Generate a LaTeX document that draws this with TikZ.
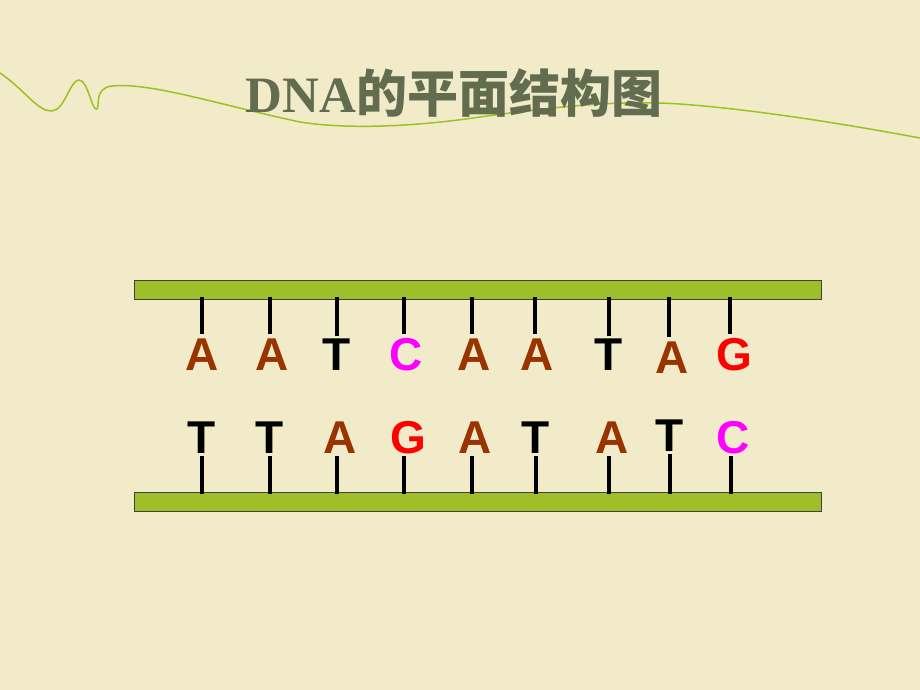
\documentclass[tikz,border=0pt]{standalone}
\usepackage{fontspec}
\setmainfont{Liberation Sans}
\newfontfamily\titlefont{Liberation Serif}
\newfontfamily\cjk{Noto Sans CJK SC}
\usepackage{tikz}

\definecolor{paper}{HTML}{F1EBCA}
\definecolor{titlegray}{HTML}{626D50}
\definecolor{vine}{HTML}{9CC21F}
\definecolor{barfill}{HTML}{9EBE2A}
\definecolor{baseA}{HTML}{993300}
\definecolor{baseC}{HTML}{FF00FF}
\definecolor{baseG}{HTML}{FF0000}
\definecolor{baseT}{HTML}{000000}

\tikzset{
  backbone/.style={draw=black!75, line width=1pt, fill=barfill,
    minimum width=687pt, minimum height=19pt, inner sep=0pt},
  letter/.style={inner sep=0pt, text height=33pt, text depth=0pt,
    font=\fontsize{46}{46}\selectfont\bfseries},
  stick/.style={line width=4.2pt, black}
}

\begin{document}
\begin{tikzpicture}[x=1pt, y=-1pt]
  \useasboundingbox[fill=paper] (0,0) rectangle (920,690);
  % decorative line
  \draw[vine, line width=1.5pt]
    (0,73) .. controls (25,90) and (38,112) .. (52,111)
    .. controls (65,110) and (70,80) .. (79,80)
    .. controls (88,80) and (92,112) .. (97,109)
    .. controls (100,106) and (94,88) .. (112,86)
    .. controls (150,82) and (220,105) .. (300,122)
    .. controls (350,130) and (420,126) .. (480,117)
    .. controls (560,106) and (620,100) .. (680,104)
    .. controls (760,110) and (850,125) .. (920,138);
  \node[anchor=base, text=titlegray, inner sep=0pt] (title) at (454,113)
    {\fontsize{51}{51}\selectfont\bfseries\titlefont DNA\cjk 的平面结构图};
  % the two strands
  \node[backbone] (topbar) at (477.5,289.5) {};
  \node[backbone] (botbar) at (477.5,501.5) {};
  % upper bases
  \foreach \sx/\lx/\ly/\b/\g [count=\i] in
    {202/202/337/A/3, 270/272/337/A/3, 337/337/337/T/1, 404/406/337/C/3,
     472/474/337/A/3, 535/537/337/A/3, 609/609/337/T/1, 669/672/340/A/3,
     730/734/337/G/3}
  {
    \node[letter, anchor=north, text=base\b] (u\i) at (\lx,\ly) {\b};
    \coordinate (us\i) at (\sx,297);
    \draw[stick] (us\i) -- ([yshift=\g pt]us\i |- u\i.north);
  }
  % lower bases
  \foreach \sx/\lx/\ly/\b/\g [count=\i] in
    {202/202/420/T/3, 270/270/420/T/3, 337/340/420/A/3, 404/408/420/G/3,
     472/475/420/A/3, 536/536/420/T/3, 609/612/420/A/3, 670/670/418/T/3,
     731/733/420/C/3}
  {
    \node[letter, anchor=north, text=base\b] (d\i) at (\lx,\ly) {\b};
    \coordinate (ds\i) at (\sx,494);
    \draw[stick] (ds\i) -- ([yshift=-\g pt]ds\i |- d\i.south);
  }
\end{tikzpicture}
\end{document}
